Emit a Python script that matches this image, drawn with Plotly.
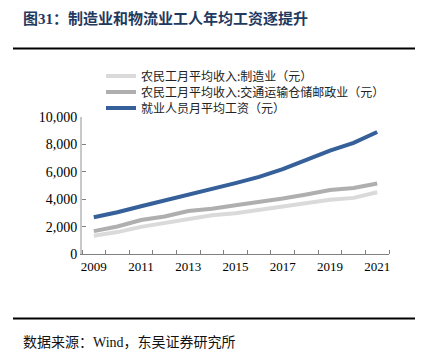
import plotly.graph_objects as go

years = list(range(2009, 2022))
manufacturing = [1331, 1600, 1980, 2257, 2537, 2832, 2970, 3233, 3444, 3732, 3958, 4096, 4508]
transport = [1671, 2012, 2485, 2735, 3133, 3301, 3553, 3775, 4048, 4345, 4667, 4814, 5151]
avg_wage = [2687, 3045, 3483, 3897, 4290, 4697, 5169, 5631, 6193, 6868, 7542, 8115, 8903]
names = ["农民工月平均收入:制造业（元）",
         "农民工月平均收入:交通运输仓储邮政业（元）",
         "就业人员月平均工资（元）"]
x_ticks = [2009, 2011, 2013, 2015, 2017, 2019, 2021]
y_ticks = [0, 2000, 4000, 6000, 8000, 10000]

W, H = 426, 358
L, R, T, B = 82, 37, 117, 104
pw, ph = W - L - R, H - T - B

def px(x):
    return (x - L) / pw

def py(y):
    return (H - B - y) / ph

CJK = "Noto Sans CJK SC"
SERIF = "Liberation Serif"

fig = go.Figure()
series = [(manufacturing, "#DADADA", "legend"),
          (transport, "#AFAFAF", "legend2"),
          (avg_wage, "#36609A", "legend3")]
for (vals, color, lg), name in zip(series, names):
    fig.add_trace(go.Scatter(x=years, y=vals, mode="lines", name=name, showlegend=True,
                             line=dict(color=color, width=4), legend=lg))

leg_rows = [76, 92, 108]
leg_common = dict(xanchor="left", yanchor="middle", bgcolor="rgba(0,0,0,0)",
                  font=dict(family=CJK, size=12, color="#222222"),
                  borderwidth=0, itemwidth=30, xref="paper", yref="paper")
fig.update_layout(
    width=W, height=H, showlegend=True,
    margin=dict(l=L, r=R, t=T, b=B, autoexpand=False),
    paper_bgcolor="white", plot_bgcolor="white",
    legend=dict(x=px(101), y=py(leg_rows[0]), **leg_common),
    legend2=dict(x=px(101), y=py(leg_rows[1]), **leg_common),
    legend3=dict(x=px(101), y=py(leg_rows[2]), **leg_common),
    xaxis=dict(range=[2008.5, 2021.5], tickvals=x_ticks, ticktext=[str(v) for v in x_ticks],
               ticks="", showgrid=False, zeroline=False,
               showline=True, linecolor="#808080", linewidth=1,
               tickfont=dict(family=SERIF, size=13, color="black"),
               minor=dict(tickvals=[y + 0.5 for y in range(2008, 2022)], ticks="inside",
                          ticklen=4, tickcolor="#808080", tickwidth=1, showgrid=False)),
    yaxis=dict(range=[0, 10000], tickvals=y_ticks, ticktext=[f"{v:,}" for v in y_ticks],
               ticks="inside", ticklen=4, tickcolor="#808080", tickwidth=1,
               showgrid=False, zeroline=False,
               showline=True, linecolor="#C8C8C8", linewidth=2,
               tickfont=dict(family=SERIF, size=14, color="black")),
    font=dict(family=CJK),
)

# title
fig.add_annotation(xref="paper", yref="paper", x=px(21), y=py(17), xanchor="left", yanchor="middle",
                   showarrow=False,
                   text="<b>图<span style='font-family:Liberation Serif'>31</span>：制造业和物流业工人年均工资逐提升</b>",
                   font=dict(family=CJK, size=15, color="#1F3A60"))
# source
fig.add_annotation(xref="paper", yref="paper", x=px(21), y=py(341), xanchor="left", yanchor="middle",
                   showarrow=False,
                   text="数据来源：<span style='font-family:Liberation Serif'>Wind</span>，东吴证券研究所",
                   font=dict(family=CJK, size=14, color="#111111"))
# rules
for yy in [48.5, 318.5]:
    fig.add_shape(type="line", xref="paper", yref="paper", x0=px(13), x1=px(415),
                  y0=py(yy), y1=py(yy), line=dict(color="black", width=2))

fig.write_html("out.html", config={"displayModeBar": False},
               post_script="document.body.style.margin='0';")
